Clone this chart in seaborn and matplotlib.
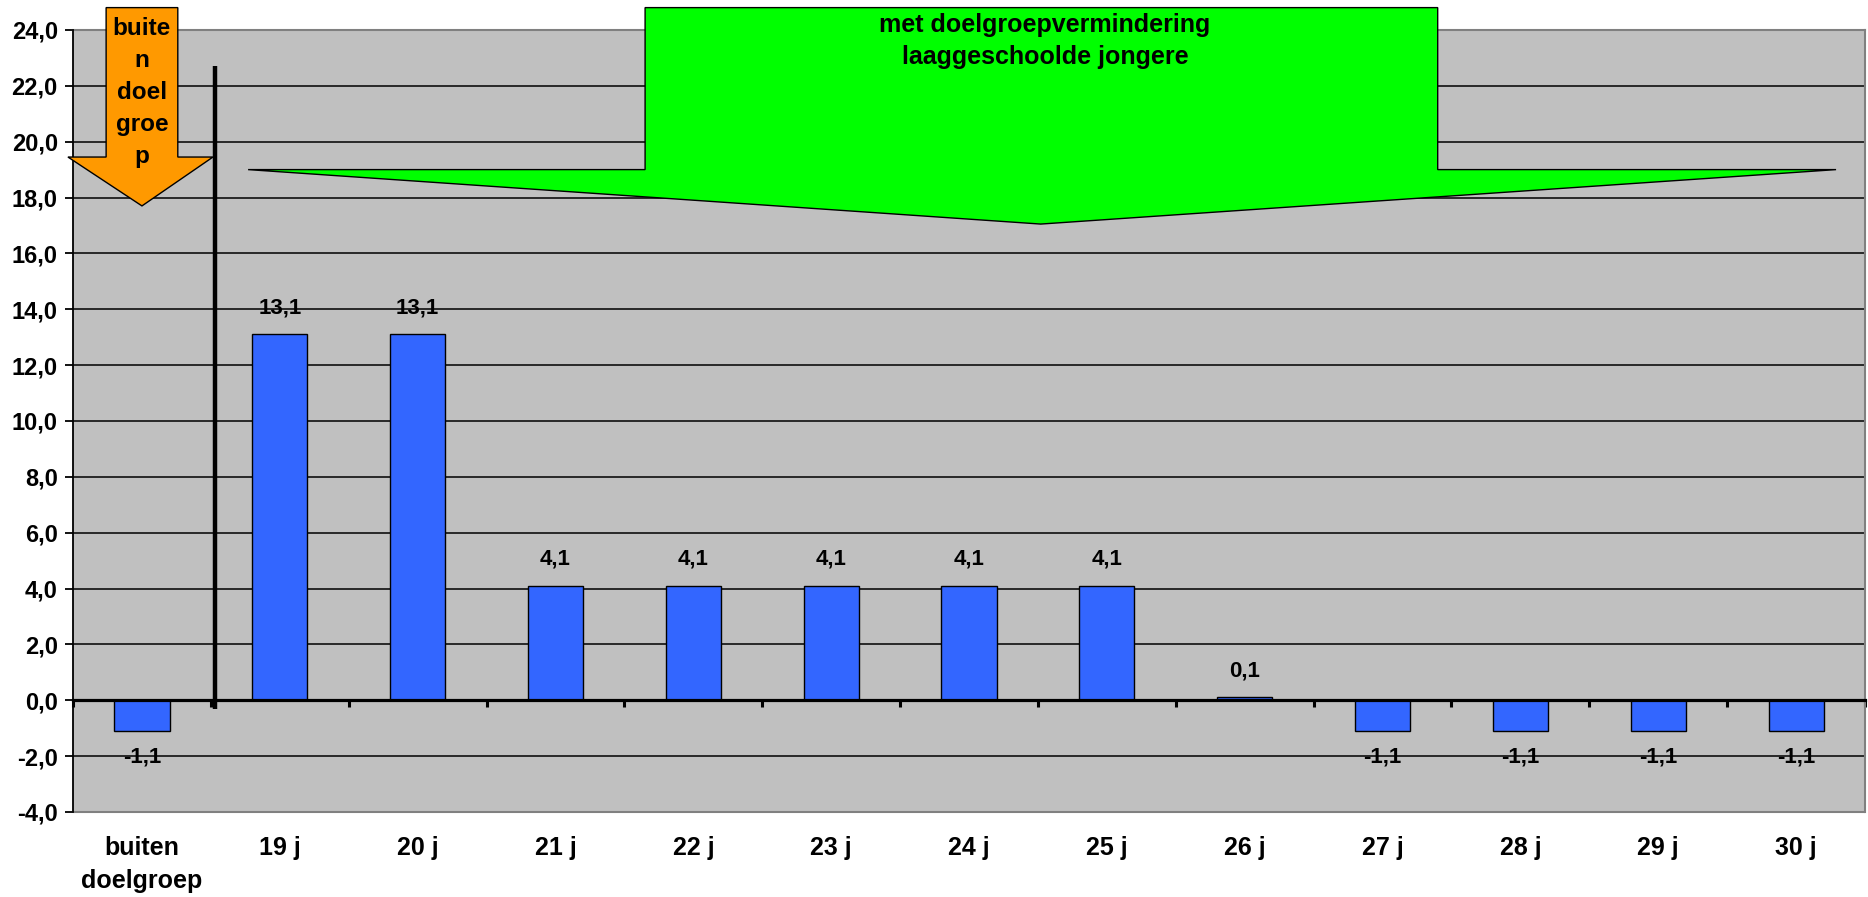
import matplotlib.pyplot as plt
import numpy as np
import seaborn as sns
from matplotlib.patches import Polygon
from matplotlib.ticker import FixedLocator, FuncFormatter

# data
categories = ['buiten\ndoelgroep', '19 j', '20 j', '21 j', '22 j', '23 j', '24 j',
              '25 j', '26 j', '27 j', '28 j', '29 j', '30 j']
values = [-1.1, 13.1, 13.1, 4.1, 4.1, 4.1, 4.1, 4.1, 0.1, -1.1, -1.1, -1.1, -1.1]
y_ticks = list(range(-4, 25, 2))
orange_text = 'buite\nn\ndoel\ngroe\np'
green_text = 'met doelgroepvermindering\nlaaggeschoolde jongere'

sns.set_style('white')
plt.rcParams['font.family'] = ['Liberation Sans', 'DejaVu Sans']
plt.rcParams['font.weight'] = 'bold'
plt.rcParams['text.color'] = 'black'
plt.rcParams['xtick.color'] = 'black'
plt.rcParams['ytick.color'] = 'black'

fig = plt.figure(figsize=(18.68, 8.97), dpi=100)
ax = fig.add_axes([0.0391, 0.0948, 0.9593, 0.8718])
ax.set_facecolor('#C0C0C0')

sns.barplot(x=categories, y=values, color='#3366FF', saturation=1, width=0.4,
            edgecolor='black', linewidth=1.0, ax=ax, zorder=3)

ax.set_xlim(-0.5, 12.5)
ax.set_ylim(-4, 24)
ax.set_yticks(y_ticks)
ax.yaxis.set_major_formatter(FuncFormatter(lambda v, p: f'{v:.1f}'.replace('.', ',')))
ax.grid(axis='y', color='black', linewidth=1.1, zorder=1)
ax.set_axisbelow(True)

# frame
for s in ['top', 'right']:
    ax.spines[s].set_color('#808080')
    ax.spines[s].set_linewidth(1.5)
ax.spines['left'].set_color('black')
ax.spines['left'].set_linewidth(1.3)
ax.spines['left'].set_zorder(4)
ax.spines['bottom'].set_position(('data', 0))
ax.spines['bottom'].set_linewidth(2.3)
ax.spines['bottom'].set_color('black')
ax.spines['bottom'].set_zorder(4)
ax.axhline(-4, color='#808080', linewidth=1.5, clip_on=False, zorder=4)

ax.tick_params(axis='y', left=True, direction='out', length=6, width=1.3, color='black',
               labelsize=17, pad=5, labelcolor='black')
ax.tick_params(axis='x', which='major', bottom=True, length=0, labelsize=18, pad=98,
               labelcolor='black')
ax.xaxis.set_minor_locator(FixedLocator(np.arange(-0.5, 13, 1)))
ax.tick_params(axis='x', which='minor', bottom=True, direction='out', length=5, width=2.2,
               color='black')
for lab in ax.get_xticklabels():
    lab.set_fontweight('bold')
    lab.set_linespacing(1.45)
for lab in ax.get_yticklabels():
    lab.set_fontweight('bold')
ax.set_xlabel('')
ax.set_ylabel('')

# data labels
for i, v in enumerate(values):
    off = 19 if v >= 0 else -19
    ax.annotate(f'{v:.1f}'.replace('.', ','), (i, v), xytext=(0, off),
                textcoords='offset points', ha='center', va='center',
                fontsize=16, fontweight='bold', color='black', zorder=5)

# separator line
ax.plot([0.53, 0.53], [-0.3, 22.7], color='black', linewidth=3.2, zorder=6,
        solid_capstyle='butt', clip_on=False)

# orange arrow
orange = Polygon([(-0.26, 24.8), (0.26, 24.8), (0.26, 19.45), (0.515, 19.45),
                  (0.0, 17.7), (-0.537, 19.45), (-0.26, 19.45)],
                 closed=True, facecolor='#FF9900', edgecolor='black', linewidth=1.0,
                 zorder=7, clip_on=False)
ax.add_patch(orange)
ax.text(0.0, 21.75, orange_text, ha='center', va='center', fontsize=17.5,
        fontweight='bold', linespacing=1.5, color='black', zorder=8)

# green arrow
green = Polygon([(3.65, 24.8), (9.40, 24.8), (9.40, 19.0), (12.29, 19.0),
                 (6.52, 17.05), (0.77, 19.0), (3.65, 19.0)],
                closed=True, facecolor='#00FF00', edgecolor='black', linewidth=1.0,
                zorder=7, clip_on=False)
ax.add_patch(green)
ax.text(6.55, 23.6, green_text, ha='center', va='center', fontsize=18,
        fontweight='bold', linespacing=1.4, color='black', zorder=8)

plt.savefig('out.png', dpi=100)
plt.close()
